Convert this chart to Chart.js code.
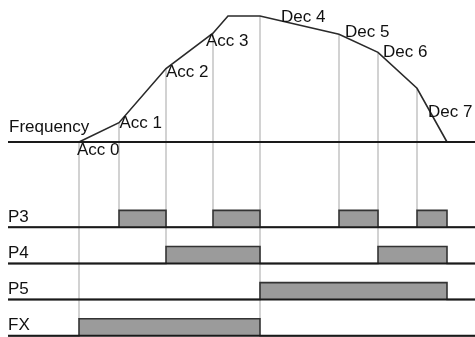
<!DOCTYPE html>
<html>
<head>
<meta charset="utf-8">
<script src="https://cdn.jsdelivr.net/npm/chart.js@4"></script>
<style>
  html, body { margin: 0; padding: 0; background: #fff; }
  #wrap { width: 475px; height: 337px; }
</style>
</head>
<body>
<div id="wrap"><canvas id="grafico-tempo"></canvas></div>
<script>
// Frequency curve (time units, Hz)
var tempoCurva = [0, 4.0, 8.7, 13.4, 14.9, 18.1, 26.0, 29.9, 33.8, 36.8];
var freqCurva = [0, 9.2, 35, 51.8, 60, 60, 51.3, 42.7, 25.6, 0];

// Acc / Dec stages
var etapas = ["Acc 0", "Acc 1", "Acc 2", "Acc 3", "Dec 4", "Dec 5", "Dec 6", "Dec 7"];
var tempoEtapas = [0, 4.0, 8.7, 13.4, 18.1, 26.0, 29.9, 33.8];

// Terminal signals, ON intervals
var sinais = ["P3", "P4", "P5", "FX"];
var ligadoP3 = [[4.0, 8.7], [13.4, 18.1], [26.0, 29.9], [33.8, 36.8]];
var ligadoP4 = [[8.7, 18.1], [29.9, 36.8]];
var ligadoP5 = [[18.1, 36.8]];
var ligadoFX = [[0, 18.1]];
var ligados = [ligadoP3, ligadoP4, ligadoP5, ligadoFX];

// axis range
var xMin = -7.9, xMax = 39.6;
var inicioLinha = -7.1;
var alturaBarra = 0.47;

function nivel(i) {
  return sinais.length - 1 - i;
}

function pontosDegrau(intervalos, base) {
  var pts = [{ x: inicioLinha, y: base }];
  intervalos.forEach(function (iv) {
    pts.push({ x: iv[0], y: base + alturaBarra });
    pts.push({ x: iv[1], y: base });
  });
  pts.push({ x: xMax, y: base });
  return pts;
}

var datasets = [];

// frequency baseline + curve
datasets.push({
  data: [{ x: inicioLinha, y: 0 }, { x: xMax, y: 0 }],
  yAxisID: "yFreq",
  borderColor: "#1a1a1a",
  borderWidth: 2,
  pointRadius: 0,
  order: 0,
});
datasets.push({
  data: tempoCurva.map(function (t, i) { return { x: t, y: freqCurva[i] }; }),
  yAxisID: "yFreq",
  borderColor: "#2a2a2a",
  borderWidth: 1.6,
  pointRadius: 0,
  order: 0,
});

// signal rows
sinais.forEach(function (s, i) {
  datasets.push({
    data: pontosDegrau(ligados[i], nivel(i)),
    yAxisID: "ySinais",
    stepped: true,
    borderColor: "#333333",
    borderWidth: 1.6,
    backgroundColor: "#9b9b9b",
    fill: { value: nivel(i) },
    pointRadius: 0,
    order: 1,
  });
  datasets.push({
    data: [{ x: inicioLinha, y: nivel(i) }, { x: xMax, y: nivel(i) }],
    yAxisID: "ySinais",
    borderColor: "#1a1a1a",
    borderWidth: 2,
    pointRadius: 0,
    order: 0,
  });
});

// light vertical lines at each stage
var linhasVerticais = {
  id: "linhasVerticais",
  beforeDatasetsDraw: function (chart) {
    var ctx = chart.ctx;
    var x = chart.scales.x, yF = chart.scales.yFreq, yS = chart.scales.ySinais;
    ctx.save();
    ctx.strokeStyle = "#d2d2d2";
    ctx.lineWidth = 2;
    tempoEtapas.forEach(function (t) {
      var f = freqCurva[tempoCurva.indexOf(t)];
      var fim = null;
      ligados.forEach(function (ivs, i) {
        ivs.forEach(function (iv) {
          if (iv[0] === t || iv[1] === t) fim = nivel(i);
        });
      });
      var px = x.getPixelForValue(t);
      ctx.beginPath();
      ctx.moveTo(px, yF.getPixelForValue(f));
      ctx.lineTo(px, yS.getPixelForValue(fim + alturaBarra));
      ctx.stroke();
    });
    ctx.restore();
  },
};

// text labels
var deslocEtapas = [[-2, 13], [0.5, 5.6], [0, 8], [-7, 13], [21, 6], [6, 3], [5, 5], [11, 29]];
var rotulos = {
  id: "rotulos",
  afterDatasetsDraw: function (chart) {
    var ctx = chart.ctx;
    var x = chart.scales.x, yF = chart.scales.yFreq, yS = chart.scales.ySinais;
    ctx.save();
    ctx.font = "17px 'Liberation Sans', Arial, sans-serif";
    ctx.fillStyle = "#111";
    ctx.textAlign = "left";
    ctx.textBaseline = "alphabetic";
    ctx.fillText("Frequency", x.getPixelForValue(inicioLinha) + 1, yF.getPixelForValue(0) - 9.7);
    etapas.forEach(function (nome, i) {
      var t = tempoEtapas[i];
      var f = freqCurva[tempoCurva.indexOf(t)];
      ctx.fillText(nome, x.getPixelForValue(t) + deslocEtapas[i][0], yF.getPixelForValue(f) + deslocEtapas[i][1]);
    });
    sinais.forEach(function (s, i) {
      ctx.fillText(s, x.getPixelForValue(inicioLinha), yS.getPixelForValue(nivel(i)) - 5.5);
    });
    ctx.restore();
  },
};

var ctx = document.getElementById("grafico-tempo").getContext("2d");

var grafico = new Chart(ctx, {
  type: "line",
  data: { datasets: datasets },
  options: {
    responsive: true,
    maintainAspectRatio: false,
    animation: false,
    events: [],
    layout: { padding: 0 },
    plugins: {
      legend: { display: false },
      tooltip: { enabled: false },
    },
    scales: {
      x: { type: "linear", min: xMin, max: xMax, display: false },
      ySinais: {
        type: "linear",
        position: "left",
        stack: "pilha",
        stackWeight: 177,
        min: -0.036,
        max: 4.863,
        display: false,
      },
      yFreq: {
        type: "linear",
        position: "left",
        stack: "pilha",
        stackWeight: 160,
        min: -8.57,
        max: 67.62,
        display: false,
      },
    },
  },
  plugins: [linhasVerticais, rotulos],
});
</script>
</body>
</html>
